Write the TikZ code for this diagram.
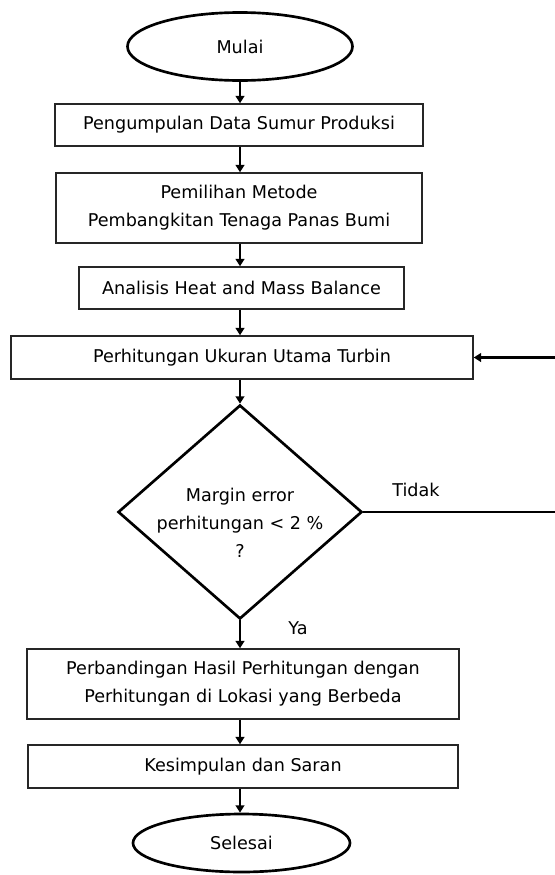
\documentclass[tikz,border=0pt]{standalone}
\usepackage{fontspec}
\setmainfont{DejaVu Sans}
\usetikzlibrary{shapes.geometric,arrows.meta}

\tikzset{
    proses/.style={draw=black!85, line width=1.1pt, rectangle, align=center, inner sep=0pt},
    terminal/.style={draw, line width=2pt, ellipse, inner sep=0pt},
    keputusan/.style={draw, line width=2pt, diamond, aspect=1.15, inner sep=0pt},
    panah/.style={line width=1.9pt, -{Triangle[width=6.5pt,length=5.5pt]}},
    garis/.style={line width=1.9pt}
}

\begin{document}
\begin{tikzpicture}[x=0.75pt, y=-0.75pt, font=\fontsize{13.2}{21}\selectfont]
    \useasboundingbox (0,0) rectangle (555,875);

    % alur utama
    \node[terminal, minimum width=168.75pt, minimum height=51pt] (mulai) at (240,46.5) {Mulai};
    \node[proses, minimum width=276pt, minimum height=31.5pt] (data) at (239,125) {Pengumpulan Data Sumur Produksi};
    \node[proses, minimum width=274.5pt, minimum height=52.5pt] (metode) at (239,208) {Pemilihan Metode\\Pembangkitan Tenaga Panas Bumi};
    \node[proses, minimum width=243.75pt, minimum height=31.5pt] (hmb) at (241.5,288) {Analisis Heat and Mass Balance};
    \node[proses, minimum width=346.5pt, minimum height=32.25pt] (turbin) at (242,357.5) {Perhitungan Ukuran Utama Turbin};
    \node[keputusan, minimum width=183pt, minimum height=160.5pt] (cek) at (240,512)
        {\raisebox{-12pt}[0pt][0pt]{\begin{tabular}{@{}c@{}}Margin error\\perhitungan < 2 \%\\?\end{tabular}}};
    \node[proses, minimum width=324pt, minimum height=52.5pt] (banding) at (243,684) {Perbandingan Hasil Perhitungan dengan\\Perhitungan di Lokasi yang Berbeda};
    \node[proses, minimum width=322.5pt, minimum height=32.25pt] (saran) at (243,766.5) {Kesimpulan dan Saran};
    \node[terminal, minimum width=162.75pt, minimum height=43.5pt] (selesai) at (241.5,843) {Selesai};

    % label cabang
    \node (tidak) at (416,490) {Tidak};
    \node (ya) at (298,628) {Ya};

    \draw[panah] (mulai.south) -- (mulai.south |- data.north);
    \draw[panah] (mulai.south |- data.south) -- (mulai.south |- metode.north);
    \draw[panah] (mulai.south |- metode.south) -- (mulai.south |- hmb.north);
    \draw[panah] (mulai.south |- hmb.south) -- (mulai.south |- turbin.north);
    \draw[panah] (mulai.south |- turbin.south) -- (cek.north);
    \draw[panah] (cek.south) -- (cek.south |- banding.north);
    \draw[panah] (cek.south |- banding.south) -- (cek.south |- saran.north);
    \draw[panah] (cek.south |- saran.south) -- (cek.south |- selesai.north);

    % kembali ke perhitungan
    \coordinate (balik) at (557,512);
    \draw[garis] (cek.east) -- (balik);
    \draw[panah] (balik |- turbin.east) -- (turbin.east);
\end{tikzpicture}
\end{document}
